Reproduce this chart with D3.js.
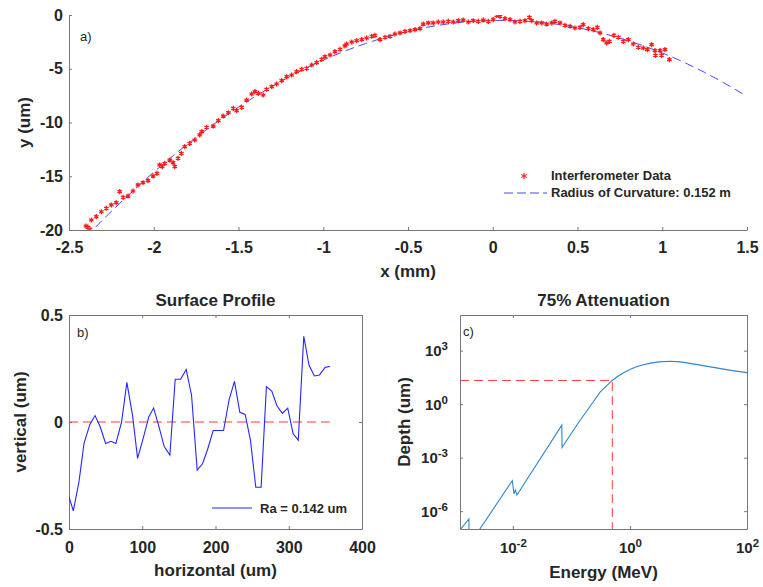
<!DOCTYPE html>
<html>
<head>
<meta charset="utf-8">
<script src="https://cdn.jsdelivr.net/npm/d3@7"></script>
<style>
body { margin: 0; background: #fff; }
</style>
</head>
<body>
<script>
var width = 763,
    height = 587;

var FONT = '"Liberation Sans", Arial, Helvetica, sans-serif',
    AXC = '#777',
    TXT = '#262626';

// ---- a) interferometer profile ----
var dataX = [-2.400,-2.388,-2.376,-2.368,-2.339,-2.309,-2.280,-2.250,-2.221,-2.201,-2.181,-2.152,-2.122,-2.093,-2.063,-2.034,-2.004,-1.981,-1.965,-1.950,-1.935,-1.905,-1.886,-1.876,-1.857,-1.837,-1.817,-1.788,-1.758,-1.729,
  -1.717,-1.688,-1.649,-1.619,-1.590,-1.560,-1.531,-1.511,-1.481,-1.452,-1.422,-1.403,-1.383,-1.354,-1.334,-1.304,-1.275,-1.245,-1.216,-1.186,-1.157,-1.127,-1.098,-1.068,-1.039,-1.009,-0.990,-0.960,-0.931,-0.901,
  -0.872,-0.862,-0.832,-0.803,-0.773,-0.744,-0.714,-0.695,-0.665,-0.636,-0.606,-0.577,-0.547,-0.518,-0.488,-0.459,-0.429,-0.410,-0.380,-0.351,-0.321,-0.292,-0.262,-0.233,-0.203,-0.174,-0.144,-0.115,-0.085,-0.056,-0.026,
  0.003,0.023,0.043,0.072,0.102,0.131,0.161,0.190,0.216,0.230,0.259,0.289,0.318,0.348,0.367,0.397,0.426,0.456,0.485,0.515,0.534,0.564,0.593,0.617,0.633,0.652,0.672,0.688,0.715,0.741,0.770,0.800,0.829,0.859,0.888,0.912,0.937,0.957,0.960,0.987,0.996,1.016,1.042];
var dataY = [-19.63,-19.75,-19.94,-19.07,-18.76,-18.30,-17.98,-17.67,-17.46,-16.43,-16.96,-16.84,-16.37,-15.81,-15.60,-15.41,-14.98,-14.73,-13.95,-14.10,-13.80,-13.50,-13.74,-14.10,-13.33,-12.87,-12.25,-11.94,-11.63,-11.16,
  -10.85,-10.45,-10.33,-9.83,-9.40,-9.09,-8.68,-8.90,-8.59,-7.91,-7.35,-7.13,-7.29,-7.44,-6.91,-6.67,-6.42,-6.11,-5.74,-5.58,-5.27,-5.05,-4.96,-4.65,-4.43,-4.12,-3.88,-3.72,-3.41,-3.19,
  -2.88,-2.70,-2.51,-2.39,-2.29,-2.14,-1.98,-1.89,-2.29,-2.07,-1.98,-1.77,-1.67,-1.52,-1.46,-1.36,-1.27,-0.84,-0.74,-0.74,-0.65,-0.65,-0.59,-0.65,-0.53,-0.47,-0.65,-0.53,-0.59,-0.47,-0.59,
  -0.43,-0.03,-0.13,-0.34,-0.43,-0.65,-0.59,-0.53,-0.22,-0.53,-0.74,-0.74,-0.84,-0.74,-0.59,-0.74,-0.96,-1.05,-1.21,-1.15,-0.90,-1.27,-1.36,-1.15,-1.67,-2.29,-2.60,-2.45,-1.89,-2.07,-2.45,-2.29,-2.70,-3.00,-3.07,-3.22,-2.76,-3.32,-3.75,-3.32,-3.75,-3.22,-4.15];
var fitX = [-2.4,-2.25,-2.0,-1.75,-1.5,-1.25,-1.0,-0.75,-0.5,-0.25,0,0.25,0.5,0.75,1.0,1.25,1.5];
var fitY = [-20.67,-18.27,-14.62,-11.39,-8.57,-6.18,-4.20,-2.65,-1.52,-0.80,-0.51,-0.63,-1.18,-2.15,-3.53,-5.34,-7.56];
var aTicksX = [-2.5,-2,-1.5,-1,-0.5,0,0.5,1,1.5];
var aTicksY = [-20,-15,-10,-5,0];

// ---- b) surface profile ----
var profX = [0,5.9,13.6,20.5,28.6,35.5,42.3,50,57.3,64,71.8,79,86.8,93.6,101,109,115.5,122.7,130,137.7,145,152.3,160,167.3,175,182.3,189.5,196.8,204,211,218.6,225.9,233.2,240.5,247.7,255,262.3,269.5,276.8,284,291.3,298.6,306,313,320.5,327.7,335,342,349.5,356];
var profY = [-0.35,-0.415,-0.28,-0.10,-0.01,0.03,-0.02,-0.10,-0.09,-0.10,0.0,0.185,0.03,-0.17,-0.08,0.025,0.065,-0.02,-0.115,-0.155,0.2,0.2,0.245,0.125,-0.225,-0.195,-0.125,-0.04,-0.04,-0.04,0.105,0.19,0.045,0.035,-0.085,-0.305,-0.305,0.165,0.145,0.075,0.04,0.065,-0.055,-0.085,0.4,0.265,0.215,0.22,0.255,0.26];
var bTicksX = [0,100,200,300,400];
var bTicksY = [-0.5,0,0.5];

// ---- c) 75% attenuation depth ----
var energy = [0.00125,0.001778,0.001782,0.00977,0.01047,0.01104,0.01175,0.0686,0.0692,0.123,0.209,0.309,0.498,0.631,0.794,1,1.259,1.585,2.239,3.162,5.012,7.079,10,17.78,31.62,56.23,100];
var depth = [8.9e-8,3.63e-7,1.23e-8,5.13e-5,9.33e-6,1.55e-5,8.13e-6,0.0661,0.00372,0.0661,0.759,4.68,21.4,38.0,60.3,89.1,120,151,200,234,257,234,200,145,105,75.9,58.9];
var refEnergy = 0.5, refDepth = 21.4;
var cTicksX = [1e-2,1,1e2];
var cTicksY = [1e-6,1e-3,1,1e3];

var svg = d3.select('body')
    .append('svg')
    .attr('width', width)
    .attr('height', height)
    .style('background', '#fff');

function styleAxis(g) {
    g.attr('font-family', FONT).attr('font-size', 16).attr('font-weight', 'bold');
    g.select('.domain').attr('stroke', AXC);
    g.selectAll('.tick line').attr('stroke', AXC);
    g.selectAll('.tick text').attr('fill', TXT);
}

function label(g, txt, x, y, size, rot, weight) {
    var t = g.append('text')
        .attr('font-family', FONT)
        .attr('font-size', size)
        .attr('font-weight', weight || 'bold')
        .attr('fill', TXT)
        .attr('text-anchor', weight ? 'start' : 'middle')
        .text(txt);
    if (rot) t.attr('transform', 'translate(' + x + ',' + y + ') rotate(-90)');
    else t.attr('x', x).attr('y', y);
    return t;
}

function clip(id, w, h) {
    svg.append('clipPath').attr('id', id)
        .append('rect').attr('width', w).attr('height', h);
}

function boxAxes(g, x, y, w, h) {
    g.append('g')
        .call(d3.axisTop(x).tickValues(x.ticksUsed).tickSize(-3).tickSizeOuter(0).tickFormat(''))
        .call(styleAxis);
    g.append('g').attr('transform', 'translate(' + w + ',0)')
        .call(d3.axisRight(y).tickValues(y.ticksUsed).tickSize(-3).tickSizeOuter(0).tickFormat(''))
        .call(styleAxis);
}

// ================= panel a =================
var aL = 69, aT = 15, aW = 678, aH = 215;
var ga = svg.append('g').attr('transform', 'translate(' + aL + ',' + aT + ')');
var xa = d3.scaleLinear().domain([-2.5, 1.5]).range([0, aW]);
var ya = d3.scaleLinear().domain([-20, 0]).range([aH, 0]);
clip('clipA', aW, aH);

ga.append('g').attr('transform', 'translate(0,' + aH + ')')
    .call(d3.axisBottom(xa).tickValues(aTicksX).tickSize(-3).tickSizeOuter(0).tickPadding(12).tickFormat(d => String(d)))
    .call(styleAxis);
ga.append('g')
    .call(d3.axisLeft(ya).tickValues(aTicksY).tickSize(-3).tickSizeOuter(0).tickPadding(6).tickFormat(d => String(d)))
    .call(styleAxis);

ga.append('path')
    .attr('clip-path', 'url(#clipA)')
    .attr('d', d3.line().x((d, i) => xa(fitX[i])).y((d, i) => ya(fitY[i])).curve(d3.curveNatural)(fitX))
    .attr('fill', 'none')
    .attr('stroke', '#4a4aff')
    .attr('stroke-width', 1)
    .attr('stroke-dasharray', '9,5');

var star = d3.symbol().type(d3.symbolAsterisk).size(18);
ga.append('g').attr('clip-path', 'url(#clipA)')
    .selectAll('path')
    .data(dataX)
    .enter()
    .append('path')
    .attr('transform', (d, i) => 'translate(' + xa(d) + ',' + ya(dataY[i]) + ')')
    .attr('d', star)
    .attr('fill', 'none')
    .attr('stroke', '#ff1a1a')
    .attr('stroke-width', 1.3);

label(svg, 'a)', 80, 41, 13, false, 'normal');
label(svg, 'x (mm)', aL + aW / 2, 277, 17);
label(svg, 'y (um)', 30, aT + aH / 2, 17, true);

// legend a
svg.append('path')
    .attr('transform', 'translate(524,176)')
    .attr('d', d3.symbol().type(d3.symbolAsterisk).size(30))
    .attr('fill', 'none').attr('stroke', '#ff1a1a').attr('stroke-width', 1.1);
label(svg, 'Interferometer Data', 551, 180, 13, false, 'bold');
svg.append('line')
    .attr('x1', 504).attr('x2', 547).attr('y1', 193).attr('y2', 193)
    .attr('stroke', '#4a4aff').attr('stroke-dasharray', '9,4');
label(svg, 'Radius of Curvature: 0.152 m', 551, 197, 13, false, 'bold');

// ================= panel b =================
var bL = 69, bT = 315, bW = 293, bH = 214;
var gb = svg.append('g').attr('transform', 'translate(' + bL + ',' + bT + ')');
var xb = d3.scaleLinear().domain([0, 400]).range([0, bW]);
var yb = d3.scaleLinear().domain([-0.5, 0.5]).range([bH, 0]);
xb.ticksUsed = bTicksX; yb.ticksUsed = bTicksY;
clip('clipB', bW, bH);

gb.append('g').attr('transform', 'translate(0,' + bH + ')')
    .call(d3.axisBottom(xb).tickValues(bTicksX).tickSize(-3).tickSizeOuter(0).tickPadding(13).tickFormat(d => String(d)))
    .call(styleAxis);
gb.append('g')
    .call(d3.axisLeft(yb).tickValues(bTicksY).tickSize(-3).tickSizeOuter(0).tickPadding(6).tickFormat(d => String(d)))
    .call(styleAxis);
boxAxes(gb, xb, yb, bW, bH);

gb.append('line')
    .attr('x1', xb(0)).attr('x2', xb(profX[profX.length - 1]))
    .attr('y1', yb(0)).attr('y2', yb(0))
    .attr('stroke', '#ff3b3b').attr('stroke-width', 1).attr('stroke-dasharray', '9,5');

gb.append('path')
    .attr('clip-path', 'url(#clipB)')
    .attr('d', d3.line().x((d, i) => xb(profX[i])).y((d, i) => yb(profY[i]))(profX))
    .attr('fill', 'none')
    .attr('stroke', '#2626ff')
    .attr('stroke-width', 1.1);

label(svg, 'b)', 77, 337, 13, false, 'normal');
label(svg, 'Surface Profile', bL + bW / 2, 306, 17);
label(svg, 'horizontal (um)', bL + bW / 2, 576, 17);
label(svg, 'vertical (um)', 26, bT + bH / 2, 17, true);

svg.append('line')
    .attr('x1', 212).attr('x2', 252).attr('y1', 508).attr('y2', 508)
    .attr('stroke', '#2626ff').attr('stroke-width', 1.1);
label(svg, 'Ra = 0.142 um', 260, 513, 13, false, 'bold');

// ================= panel c =================
var cL = 460, cT = 315, cW = 287, cH = 214;
var gc = svg.append('g').attr('transform', 'translate(' + cL + ',' + cT + ')');
var xc = d3.scaleLog().domain([0.00125, 100]).range([0, cW]);
var yc = d3.scaleLog().domain([1e-7, 1e5]).range([cH, 0]);
xc.ticksUsed = cTicksX; yc.ticksUsed = cTicksY;
clip('clipC', cW, cH);

function pow10(g) {
    g.selectAll('.tick text').each(function(d) {
        var t = d3.select(this), e = Math.round(Math.log10(d));
        t.text(null);
        t.append('tspan').attr('font-size', 15).text('10');
        t.append('tspan').attr('dy', -6).attr('font-size', 11.5).text(e);
    });
}

gc.append('g').attr('transform', 'translate(0,' + cH + ')')
    .call(d3.axisBottom(xc).tickValues(cTicksX).tickSize(-3).tickSizeOuter(0).tickPadding(13))
    .call(styleAxis)
    .call(pow10);
gc.append('g')
    .call(d3.axisLeft(yc).tickValues(cTicksY).tickSize(-3).tickSizeOuter(0).tickPadding(12))
    .call(styleAxis)
    .call(pow10);
boxAxes(gc, xc, yc, cW, cH);

gc.append('path')
    .attr('d', 'M0,' + yc(refDepth) + 'H' + xc(refEnergy) + 'V' + cH)
    .attr('fill', 'none')
    .attr('stroke', '#ff3b3b').attr('stroke-width', 1).attr('stroke-dasharray', '9,5');

gc.append('path')
    .attr('clip-path', 'url(#clipC)')
    .attr('d', d3.line().x((d, i) => xc(energy[i])).y((d, i) => yc(depth[i]))(energy))
    .attr('fill', 'none')
    .attr('stroke', '#2f86cc')
    .attr('stroke-width', 1.1);

label(svg, 'c)', 463, 336, 13, false, 'normal');
label(svg, '75% Attenuation', cL + cW / 2, 306, 17);
label(svg, 'Energy (MeV)', cL + cW / 2, 578, 17);
label(svg, 'Depth (um)', 410, cT + cH / 2, 17, true);
</script>
</body>
</html>
